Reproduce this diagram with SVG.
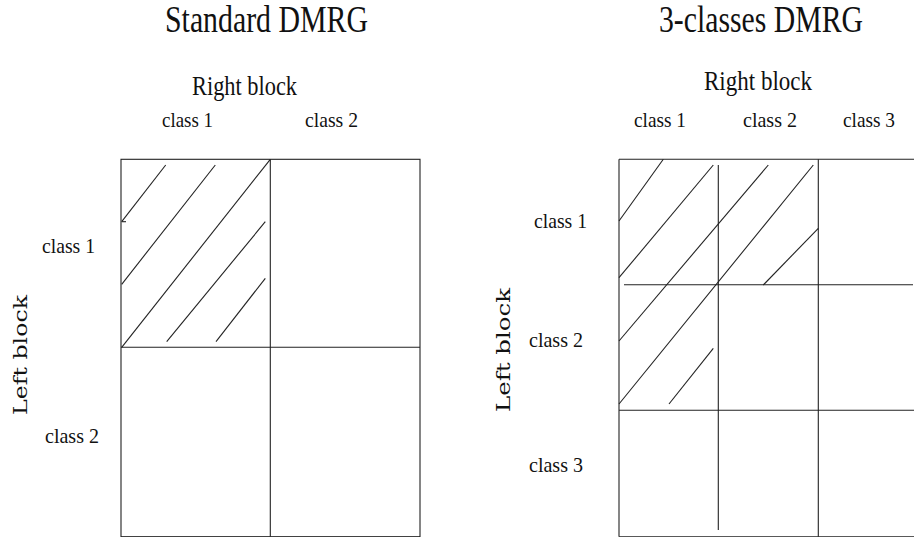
<svg xmlns="http://www.w3.org/2000/svg" width="914" height="537" viewBox="0 0 914 537">
<style>
.ln{stroke:#222;stroke-width:1.1;fill:none}
.t{font-family:"Liberation Serif","Times New Roman",serif;fill:#111}
.title{font-size:37px}
.sub{font-size:27px}
.cls{font-size:22px}
.lb{font-family:"DejaVu Serif","Liberation Serif",serif;font-size:19px;fill:#111}
</style>
<rect width="914" height="537" fill="#fff"/>
<g id="left-diagram">
  <text class="t title" x="165" y="32" textLength="203" lengthAdjust="spacingAndGlyphs">Standard DMRG</text>
  <text class="t sub" x="192" y="95" textLength="105" lengthAdjust="spacingAndGlyphs">Right block</text>
  <text class="t cls" x="162" y="127" textLength="51" lengthAdjust="spacingAndGlyphs">class 1</text>
  <text class="t cls" x="305" y="127" textLength="53" lengthAdjust="spacingAndGlyphs">class 2</text>
  <text class="t cls" x="42" y="253" textLength="53" lengthAdjust="spacingAndGlyphs">class 1</text>
  <text class="t cls" x="45" y="443" textLength="54" lengthAdjust="spacingAndGlyphs">class 2</text>
  <text class="lb" transform="translate(27,415) rotate(-90)" textLength="120" lengthAdjust="spacingAndGlyphs">Left block</text>
  <g class="ln">
    <rect x="121" y="159.3" width="299" height="377.4"/>
    <line x1="270.3" y1="159.3" x2="270.3" y2="536.7"/>
    <line x1="121" y1="347.3" x2="420" y2="347.3"/>
    <line x1="165.7" y1="165" x2="121.7" y2="221.7"/>
    <line x1="121.7" y1="221.7" x2="126" y2="221.7"/>
    <line x1="215.3" y1="165" x2="121.7" y2="284.3"/>
    <line x1="270.3" y1="159.3" x2="121.7" y2="347.3"/>
    <line x1="265.3" y1="221.7" x2="166.7" y2="341.7"/>
    <line x1="265.3" y1="278.3" x2="216" y2="341.7"/>
  </g>
</g>
<g id="right-diagram">
  <text class="t title" x="659" y="32" textLength="204" lengthAdjust="spacingAndGlyphs">3-classes DMRG</text>
  <text class="t sub" x="704" y="90" textLength="108" lengthAdjust="spacingAndGlyphs">Right block</text>
  <text class="t cls" x="634" y="127" textLength="52" lengthAdjust="spacingAndGlyphs">class 1</text>
  <text class="t cls" x="743" y="127" textLength="54" lengthAdjust="spacingAndGlyphs">class 2</text>
  <text class="t cls" x="843" y="127" textLength="52" lengthAdjust="spacingAndGlyphs">class 3</text>
  <text class="t cls" x="534" y="228" textLength="53" lengthAdjust="spacingAndGlyphs">class 1</text>
  <text class="t cls" x="529" y="347" textLength="54" lengthAdjust="spacingAndGlyphs">class 2</text>
  <text class="t cls" x="529" y="472" textLength="54" lengthAdjust="spacingAndGlyphs">class 3</text>
  <text class="lb" transform="translate(510,412) rotate(-90)" textLength="124" lengthAdjust="spacingAndGlyphs">Left block</text>
  <g class="ln">
    <line x1="619" y1="159.3" x2="914" y2="159.3"/>
    <line x1="619" y1="159.3" x2="619" y2="536.7"/>
    <line x1="619" y1="536.7" x2="914" y2="536.7"/>
    <line x1="624" y1="284.7" x2="913" y2="284.7"/>
    <line x1="619" y1="410.3" x2="914" y2="410.3"/>
    <line x1="718.3" y1="165" x2="718.3" y2="530"/>
    <line x1="818.3" y1="159.3" x2="818.3" y2="536.7"/>
    <line x1="663.3" y1="159.3" x2="619" y2="221"/>
    <line x1="713.3" y1="165" x2="619" y2="277.7"/>
    <line x1="768.3" y1="165" x2="619" y2="341"/>
    <line x1="813.3" y1="165" x2="619" y2="404"/>
    <line x1="818.3" y1="228.3" x2="763.3" y2="285"/>
    <line x1="713.3" y1="348.3" x2="669" y2="404"/>
  </g>
</g>
</svg>
